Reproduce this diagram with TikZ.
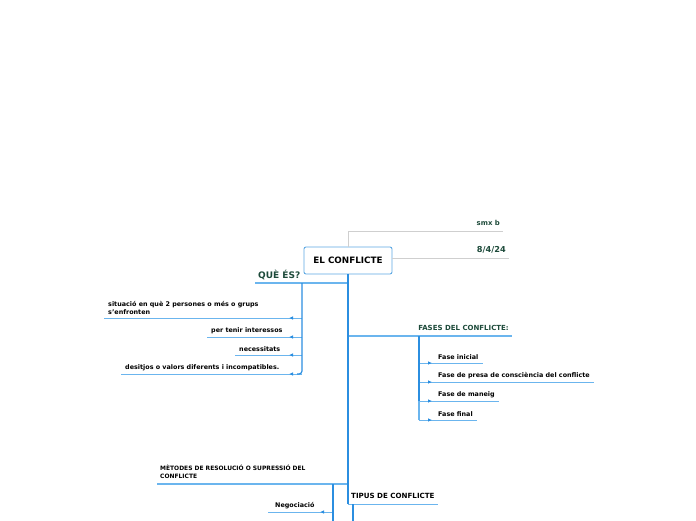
\documentclass[tikz,border=0pt]{standalone}
\usepackage{fontspec}
\setmainfont{DejaVu Sans}
\usetikzlibrary{arrows.meta,decorations.markings}

\definecolor{trunkblue}{HTML}{2B8EE0}
\definecolor{twigblue}{HTML}{6BB5EE}
\definecolor{boxblue}{HTML}{5DA8E3}
\definecolor{hdrgreen}{HTML}{1D4A3A}
\definecolor{greyline}{HTML}{CFCFCF}

\begin{document}
\begin{tikzpicture}[x=1pt,y=-1pt,
  lbl/.style={font=\bfseries\fontsize{6.4}{8.2}\selectfont,inner xsep=4pt,inner ysep=3pt,align=left},
  hdr/.style={font=\bfseries\fontsize{7}{9}\selectfont,inner xsep=3pt,inner ysep=5pt,align=left},
  trunk/.style={draw=trunkblue,line width=1.8pt},
  limb/.style={draw=twigblue,line width=1.3pt},
  twig/.style={draw=twigblue,line width=.8pt},
  tipmark/.style={postaction={decorate},decoration={markings,
    mark=at position 13pt with {\arrow[trunkblue]{Latex[length=4pt,width=3.6pt]}}}}]
\useasboundingbox (0,0) rectangle (696,520);

% centre
\node[draw=boxblue,fill=white,line width=.9pt,rounded corners=2pt,
  minimum width=88pt,minimum height=27pt,
  font=\bfseries\fontsize{8.8}{10}\selectfont] (root) at (348,260.5) {EL CONFLICTE};

% notes at the top
\node[hdr,text=hdrgreen,anchor=south east,font=\bfseries\fontsize{6.9}{8}\selectfont] (smx) at (503,231) {smx b};
\node[hdr,text=hdrgreen,anchor=south east,font=\bfseries\fontsize{8.2}{9}\selectfont] (date) at (509,258) {8/4/24};
\draw[greyline,line width=.8pt] (root.north) |- (smx.south east);
\draw[greyline,line width=.8pt] (root.east |- date.south east) -- (date.south east);

% main branches
\node[hdr,text=hdrgreen,anchor=south west,inner ysep=3pt,font=\bfseries\fontsize{9}{10}\selectfont] (ques) at (255,283) {QUÈ ÉS?};
\node[hdr,text=hdrgreen,anchor=south east] (fases) at (512,336) {FASES DEL CONFLICTE:};
\node[hdr,anchor=south west,font=\bfseries\fontsize{5.95}{8.6}\selectfont] (metodes) at (157,484) {MÈTODES DE RESOLUCIÓ O SUPRESSIÓ DEL\\CONFLICTE};
\node[hdr,anchor=south west,font=\bfseries\fontsize{7.1}{9}\selectfont] (tipus) at (348,504) {TIPUS DE CONFLICTE};

\coordinate (qb) at (302,283);
\coordinate (fb) at (419,336);
\coordinate (mb) at (333,484);
\coordinate (tb) at (353,504);

\draw[limb] (root.south |- ques.south) -- (ques.south west);
\draw[limb] (root.south |- fases.south) -- (fases.south east);
\draw[limb] (root.south |- metodes.south) -- (metodes.south west);
\draw[twig] (root.south |- tipus.south) -- (tipus.south east);
\draw[trunk] (root.south) -- (root.south |- tipus.south);

% QUE ES
\node[lbl,anchor=south west] (q1) at (104,318) {situació en què 2 persones o més o grups\\s’enfronten};
\node[lbl,anchor=south west] (q2) at (207,337) {per tenir interessos};
\node[lbl,anchor=south west] (q3) at (235,355) {necessitats};
\node[lbl,anchor=south west] (q4) at (121,374) {desitjos o valors diferents i incompatibles.};
\foreach \c in {q1,q2,q3,q4}
  \draw[twig,tipmark] (qb |- \c.south) -- (\c.south west);
\draw[trunkblue,line width=1.2pt,rounded corners=3pt] (qb) |- ([xshift=-5pt]qb |- q4.south);

% FASES
\node[lbl,anchor=south west] (f1) at (434,363) {Fase inicial};
\node[lbl,anchor=south west] (f2) at (434,382) {Fase de presa de consciència del conflicte};
\node[lbl,anchor=south west] (f3) at (434,401) {Fase de maneig};
\node[lbl,anchor=south west] (f4) at (434,420) {Fase final};
\foreach \c in {f1,f2,f3,f4}
  \draw[twig,tipmark] (fb |- \c.south) -- (\c.south east);
\draw[trunkblue,line width=1.2pt] (fb) -- (fb |- f3.south);
\draw[twigblue,line width=1.2pt] (fb |- f3.south) -- (fb |- f4.south);

% METODES
\node[lbl,anchor=south west,inner xsep=7pt] (m1) at (268,512) {Negociació};
\draw[twig,tipmark] (mb |- m1.south) -- (m1.south west);
\draw[trunkblue,line width=1.2pt] (mb) -- (333,522);

% TIPUS
\draw[trunkblue,line width=2.2pt] (tb) -- (353,522);
\end{tikzpicture}
\end{document}
